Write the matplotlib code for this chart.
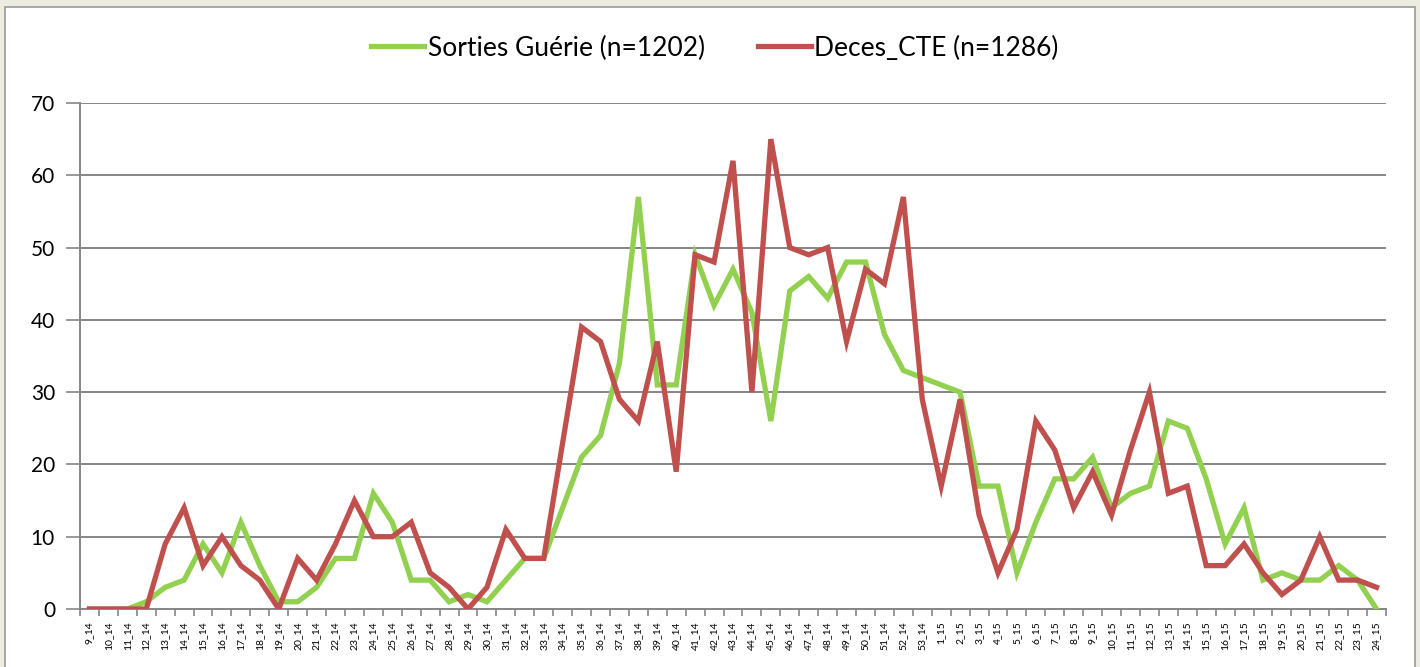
import matplotlib.pyplot as plt
from matplotlib.patches import Rectangle

# week labels (week_year)
weeks = [f"{w}_14" for w in range(9, 54)] + [f"{w}_15" for w in range(1, 25)]

gueris = [0, 0, 0, 1, 3, 4, 9, 5, 12, 6,
          1, 1, 3, 7, 7, 16, 12, 4, 4, 1,
          2, 1, 4, 7, 7, 14, 21, 24, 34, 57,
          31, 31, 49, 42, 47, 41, 26, 44, 46, 43,
          48, 48, 38, 33, 32, 31, 30, 17, 17, 5,
          12, 18, 18, 21, 14, 16, 17, 26, 25, 18,
          9, 14, 4, 5, 4, 4, 6, 4, 0]

deces = [0, 0, 0, 0, 9, 14, 6, 10, 6, 4,
         0, 7, 4, 9, 15, 10, 10, 12, 5, 3,
         0, 3, 11, 7, 7, 23, 39, 37, 29, 26,
         37, 19, 49, 48, 62, 30, 65, 50, 49, 50,
         37, 47, 45, 57, 29, 17, 29, 13, 5, 11,
         26, 22, 14, 19, 13, 22, 30, 16, 17, 6,
         6, 9, 5, 2, 4, 10, 4, 4, 3]

green = '#92D050'
red = '#C0504D'
grid_col = '#868686'

fig = plt.figure(figsize=(14.2, 6.67), dpi=100)
fig.patch.set_facecolor('#EEEBE0')
# white chart area with thin gray frame
fig.patches.append(Rectangle((5 / 1420, -0.01), 1410 / 1420, 660 / 667 + 0.01,
                             transform=fig.transFigure, facecolor='white',
                             edgecolor='#9A9A9A', linewidth=1.2, zorder=-5))

ax = fig.add_axes([80 / 1420, 58 / 667, 1306 / 1420, 506 / 667])
ax.set_facecolor('none')

x = list(range(len(weeks)))
ax.plot(x, gueris, color=green, linewidth=3.8, label='Sorties Guérie (n=1202)',
        solid_joinstyle='miter', zorder=3)
ax.plot(x, deces, color=red, linewidth=3.8, label='Deces_CTE (n=1286)',
        solid_joinstyle='miter', zorder=4)

ax.set_xlim(-0.5, len(weeks) - 0.5)
ax.set_ylim(0, 70)
ax.set_yticks(range(0, 71, 10))
ax.yaxis.grid(True, color=grid_col, linewidth=1.4)
ax.set_axisbelow(True)

ax.set_xticks(x)
ax.set_xticklabels(weeks, rotation=90, fontsize=7.5, family='Lato')
ax.set_xticks([i - 0.5 for i in range(len(weeks) + 1)], minor=True)
ax.tick_params(axis='x', which='major', length=0, pad=9)
ax.tick_params(axis='x', which='minor', length=5, color=grid_col, width=1.2)
ax.tick_params(axis='y', length=10, color=grid_col, width=1.2, labelsize=15, pad=8)
for lab in ax.get_yticklabels():
    lab.set_family('Lato')

for s in ['top', 'right']:
    ax.spines[s].set_visible(False)
for s in ['left', 'bottom']:
    ax.spines[s].set_color(grid_col)
    ax.spines[s].set_linewidth(1.4)

fig.legend(loc='center', bbox_to_anchor=(715 / 1420, 619 / 667), ncol=2,
           frameon=False, prop={'family': 'Lato', 'size': 19},
           handlelength=2.0, columnspacing=2.0, handletextpad=0.15)

fig.savefig('out.png', dpi=100, facecolor=fig.get_facecolor())
